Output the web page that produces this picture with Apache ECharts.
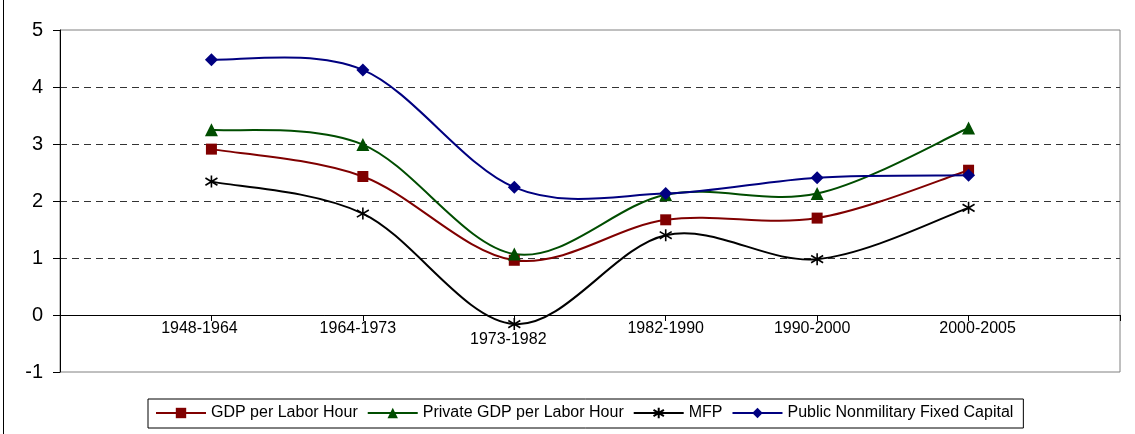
<!DOCTYPE html>
<html>
<head>
<meta charset="utf-8">
<script src="https://cdn.jsdelivr.net/npm/echarts@6/dist/echarts.min.js"></script>
<style>
  html, body { margin: 0; padding: 0; background: #fff; }
  #chart { width: 1135px; height: 434px; }
</style>
</head>
<body>
<div id="chart"></div>
<script>
// Growth rates by period (percent per year)
const periods = ['1948-1964', '1964-1973', '1973-1982', '1982-1990', '1990-2000', '2000-2005'];
const gdpPerLaborHour = [2.91, 2.43, 0.96, 1.67, 1.70, 2.54];
const privateGdpPerLaborHour = [3.25, 2.99, 1.07, 2.11, 2.13, 3.28];
const mfp = [2.34, 1.78, -0.16, 1.40, 0.98, 1.88];
const publicNonmilitaryCapital = [4.48, 4.30, 2.24, 2.13, 2.41, 2.45];
const yTicks = [-1, 0, 1, 2, 3, 4, 5];

// Empty slots at both ends so the periods sit on the inner tick marks
const categories = [''].concat(periods, ['']);
const pad = arr => [null].concat(arr, [null]);

const FONT = 'Liberation Sans, Arial, sans-serif';

// Per-label nudges (rich text styles) for the category labels
const labelStyle = {
  '1948-1964': 'a',
  '1964-1973': 'b',
  '1973-1982': 'c',
  '1982-1990': 'd',
  '1990-2000': 'b',
  '2000-2005': 'e'
};
const base = { fontFamily: FONT, fontSize: 16, color: '#000' };
const rich = {
  a: Object.assign({ padding: [0, 24, 0, 0] }, base),
  b: Object.assign({ padding: [0, 10, 0, 0] }, base),
  c: Object.assign({ padding: [11, 12, 0, 0] }, base),
  d: Object.assign({ padding: [0, 0, 0, 0] }, base),
  e: Object.assign({ padding: [0, 0, 0, 18] }, base)
};

const starPath = 'path://M5,0 L5,10 M0,2 L10,8 M0,8 L10,2';

// Markers (and legend entries) for a series; the connecting curve is drawn separately
function markerSeries(name, data, color, symbol, size, extra) {
  return Object.assign({
    name: name,
    type: 'line',
    data: pad(data),
    symbol: symbol,
    symbolSize: size,
    showAllSymbol: true,
    lineStyle: { color: color, width: 2, opacity: 0 },
    itemStyle: { color: color },
    emphasis: { disabled: true },
    animation: false
  }, extra || {});
}

// Smoothed connecting curve: cubic Bezier segments with Catmull-Rom tangents,
// positioned through the chart's own axes via api.coord
function curveSeries(values, color, z) {
  const n = values.length;
  const at = k => values[Math.max(0, Math.min(n - 1, k))];
  return {
    type: 'custom',
    z: z,
    silent: true,
    animation: false,
    data: values.slice(0, n - 1).map((v, i) => [i + 1, v]),
    renderItem: function (params, api) {
      const i = params.dataIndex;
      const pt = k => api.coord([Math.max(0, Math.min(n - 1, k)) + 1, at(k)]);
      const p0 = pt(i - 1), p1 = pt(i), p2 = pt(i + 1), p3 = pt(i + 2);
      return {
        type: 'bezierCurve',
        shape: {
          x1: p1[0], y1: p1[1],
          cpx1: p1[0] + (p2[0] - p0[0]) / 6, cpy1: p1[1] + (p2[1] - p0[1]) / 6,
          cpx2: p2[0] - (p3[0] - p1[0]) / 6, cpy2: p2[1] - (p3[1] - p1[1]) / 6,
          x2: p2[0], y2: p2[1]
        },
        style: { stroke: color, lineWidth: 2, fill: null }
      };
    }
  };
}

const COLORS = {
  gdp: '#800000',
  priv: '#004d00',
  mfp: '#000000',
  pub: '#000080'
};

const chart = echarts.init(document.getElementById('chart'), null, { renderer: 'canvas' });
chart.setOption({
  backgroundColor: '#fff',
  animation: false,
  textStyle: { fontFamily: FONT },
  graphic: [{
    type: 'line',
    shape: { x1: 3.5, y1: 0, x2: 3.5, y2: 434 },
    style: { stroke: '#000', lineWidth: 1 },
    silent: true
  }],
  grid: {
    left: 60, right: 15, top: 30, bottom: 62,
    show: true, borderColor: '#808080', borderWidth: 1, backgroundColor: '#fff'
  },
  legend: {
    left: 148, top: 399,
    padding: [6, 10, 7, 7],
    itemGap: 9,
    itemWidth: 50,
    itemHeight: 13,
    borderColor: '#000',
    borderWidth: 1,
    selectedMode: false,
    lineStyle: { opacity: 1 },
    textStyle: { fontSize: 16, color: '#000', fontFamily: FONT },
    data: ['GDP per Labor Hour', 'Private GDP per Labor Hour', 'MFP', 'Public Nonmilitary Fixed Capital']
  },
  xAxis: {
    type: 'category',
    data: categories,
    boundaryGap: false,
    axisLine: { onZero: true, lineStyle: { color: '#000', width: 1 } },
    axisTick: { show: true, interval: 0, length: 6, lineStyle: { color: '#000' } },
    axisLabel: {
      interval: 0,
      margin: -51,
      formatter: v => v ? '{' + labelStyle[v] + '|' + v + '}' : '',
      rich: rich
    },
    splitLine: { show: false }
  },
  yAxis: {
    type: 'value',
    min: yTicks[0],
    max: yTicks[yTicks.length - 1],
    interval: 1,
    axisLine: { show: true, onZero: false, lineStyle: { color: '#000', width: 1 } },
    axisTick: { show: true, length: 7, lineStyle: { color: '#000' } },
    axisLabel: { fontSize: 20, color: '#000', margin: 17, fontFamily: FONT },
    splitLine: {
      show: true,
      showMinLine: false,
      showMaxLine: false,
      lineStyle: { color: '#333', type: [7, 5], width: 1 }
    }
  },
  series: [
    curveSeries(mfp, COLORS.mfp, 2),
    curveSeries(gdpPerLaborHour, COLORS.gdp, 2),
    curveSeries(privateGdpPerLaborHour, COLORS.priv, 2),
    curveSeries(publicNonmilitaryCapital, COLORS.pub, 2),
    markerSeries('GDP per Labor Hour', gdpPerLaborHour, COLORS.gdp, 'rect', 11, { z: 3 }),
    markerSeries('Private GDP per Labor Hour', privateGdpPerLaborHour, COLORS.priv, 'triangle', 13, { z: 4 }),
    markerSeries('MFP', mfp, COLORS.mfp, starPath, 12, {
      z: 3,
      itemStyle: { color: '#000', borderColor: '#000', borderWidth: 1.6 }
    }),
    markerSeries('Public Nonmilitary Fixed Capital', publicNonmilitaryCapital, COLORS.pub, 'diamond', 13, { z: 5 })
  ]
});
</script>
</body>
</html>
